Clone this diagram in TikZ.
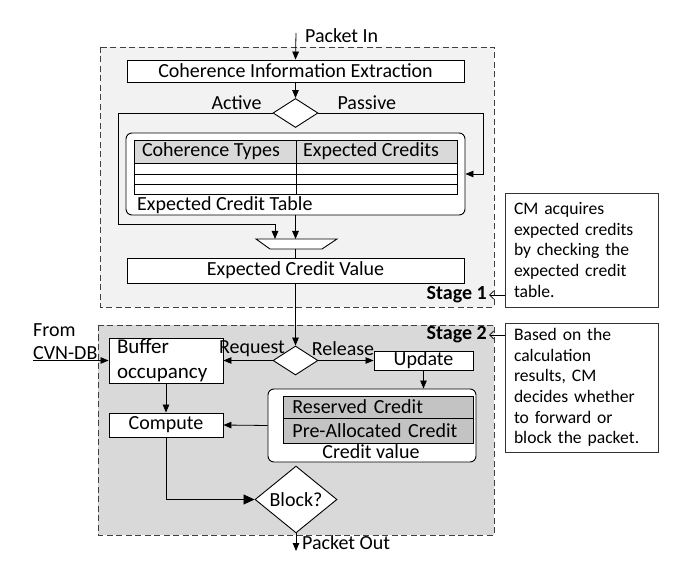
\documentclass[tikz,border=0pt]{standalone}
\usepackage{fontspec}
\setmainfont{Carlito}
\usepackage{xcolor}
\usetikzlibrary{arrows.meta, positioning, shapes.geometric}

\definecolor{stageone}{HTML}{F2F2F2}
\definecolor{stagetwo}{HTML}{D9D9D9}
\definecolor{cellgray}{HTML}{D9D9D9}
\definecolor{credgray}{HTML}{C3C3C3}

\begin{document}
\begin{tikzpicture}[x=1pt, y=-1pt,
  font=\fontsize{20}{22}\selectfont,
  box/.style={draw=black, fill=white, line width=0.9pt, inner sep=0pt},
  choice/.style={diamond, draw=black, fill=white, line width=0.9pt, inner sep=0pt},
  stagebox/.style={draw=black!75, line width=0.9pt, dash pattern=on 6pt off 3.5pt},
  cell/.style={draw=black, line width=0.9pt, inner sep=0pt, anchor=west},
  note/.style={draw=black!80, fill=white, line width=0.9pt, align=left,
               inner xsep=9pt, inner ysep=0pt, font=\fontsize{17.6}{20.7}\selectfont},
  arr/.style={-{Triangle[length=8pt, width=6.5pt]}, line width=0.8pt},
  bigarr/.style={-{Triangle[length=11pt, width=10pt]}, line width=0.8pt},
  callarr/.style={-{Straight Barb[length=4pt, width=8pt]}, line width=0.8pt}
]
  \useasboundingbox (0,0) rectangle (694,572);

  % Stage frames
  \filldraw[stagebox, fill=stageone] (100,47) rectangle (494,307);
  \filldraw[stagebox, fill=stagetwo] (98,325) rectangle (494,535);
  \node[font=\fontsize{20}{22}\selectfont\bfseries, anchor=east, inner xsep=2pt] (s1) at (489,295) {Stage 1};
  \node[font=\fontsize{20}{22}\selectfont\bfseries, anchor=east, inner xsep=2pt] (s2) at (489,335) {Stage 2};

  % Stage 1
  \coordinate (pin) at (296,33);
  \node[anchor=west, inner xsep=2pt] (pintxt) at (303,36) {Packet In};
  \node[box, minimum width=337pt, minimum height=22pt] (cie) at (295.5,71)
    {Coherence Information Extraction};
  \draw[arr] (pin) -- (cie.north);

  \node[choice, minimum width=45pt, minimum height=29pt] (mode) at (295.5,113) {};
  \draw[arr] (cie.south) -- (mode.north);
  \node[anchor=east] (act) at (265,103) {Active};
  \node[anchor=west] (pas) at (334,103) {Passive};

  % Expected credit table
  \node[box, rounded corners=6pt, minimum width=339pt, minimum height=82pt] (ectbl) at (295.5,174) {};
  \node[cell, fill=cellgray, minimum width=162pt, minimum height=23pt] (ctype) at (134,151.5) {};
  \node[cell, fill=cellgray, minimum width=161pt, minimum height=23pt] (ccred) at (296,151.5) {};
  \node (ctypetxt) at (211,151.5) {Coherence Types};
  \node (ccredtxt) at (371,151.5) {Expected Credits};
  \draw[line width=0.9pt] (134,163) rectangle (457,194);
  \foreach \y in {174,184} {
    \draw[line width=0.9pt] (134,\y) -- (457,\y);
  }
  \draw[line width=0.9pt] (296,163) -- (296,194);
  \node[anchor=west, inner xsep=2pt] (ecttxt) at (135,205) {Expected Credit Table};

  % Selector
  \filldraw[fill=white, line width=0.9pt] (256,239) -- (337,239) -- (322,249) -- (270,249) -- cycle;
  \coordinate (muxa) at (275,239);
  \coordinate (muxb) at (295.5,239);
  \coordinate (muxo) at (295.5,249);

  \node[box, minimum width=337pt, minimum height=25pt] (ecv) at (295.5,270.5) {Expected Credit Value};

  \draw[arr] (mode.west) -| (118,224) -| (muxa);
  \draw[arr] (mode.east) -| (483,174) -- (ectbl.east);
  \draw[arr] (ectbl.south) -- (muxb);
  \draw[line width=0.8pt] (muxo) -- (ecv.north);

  % Stage 2
  \node[anchor=west, align=left, inner xsep=2pt, font=\fontsize{20}{23}\selectfont] (from) at (31,341.5) {From\\CVN-DB};
  \coordinate (cvn) at (33,360.5);
  \node[box, minimum width=114pt, minimum height=45pt, text width=98pt, align=left,
        inner xsep=8pt, font=\fontsize{21}{25}\selectfont] (buf) at (166,360.5) {Buffer\\occupancy};
  \draw[arr] (cvn) -- (buf.west);

  \node[choice, minimum width=45pt, minimum height=29pt] (req) at (295.5,360.5) {};
  \draw[arr] (ecv.south) -- (req.north);
  \node (reqtxt) at (252,349) {Request};
  \node (reltxt) at (343,349) {Release};
  \node[box, minimum width=99pt, minimum height=19pt] (upd) at (423.5,360.5) {Update};
  \draw[arr] (req.west) -- (buf.east);
  \draw[arr] (req.east) -- (upd.west);

  % Credit value
  \node[box, rounded corners=6pt, minimum width=208pt, minimum height=73pt] (cv) at (372,425.5) {};
  \node[cell, fill=credgray, minimum width=181pt, minimum height=22pt, text width=172pt,
        align=left, inner xsep=9pt] (rsv) at (283,407) {Reserved Credit};
  \node[cell, fill=credgray, minimum width=181pt, minimum height=25pt, text width=172pt,
        align=left, inner xsep=9pt] (pre) at (283,430.5) {Pre-Allocated Credit};
  \node (cvtxt) at (371,452) {Credit value};
  \draw[arr] (upd.south) -- (upd.south |- cv.north);

  \node[box, minimum width=114pt, minimum height=24pt] (cmp) at (166,425) {Compute};
  \draw[arr] (buf.south) -- (cmp.north);
  \draw[arr] (cv.west) -- (cmp.east);

  \node[choice, minimum width=82pt, minimum height=53pt] (blk) at (296,499.5) {Block?};
  \draw[bigarr] (cmp.south) |- (blk.west);
  \coordinate (pout) at (296,551);
  \draw[arr] (blk.south) -- (pout);
  \node[anchor=west, inner xsep=2pt] (pouttxt) at (300,543) {Packet Out};

  % Notes
  \node[note, text width=135pt, minimum height=114pt] (n1) at (581.5,250)
    {CM acquires\\expected credits\\by checking the\\expected credit\\table.};
  \node[note, text width=135pt, minimum height=129pt] (n2) at (581.5,387.5)
    {Based on the\\calculation\\results, CM\\decides whether\\to forward or\\block the packet.};
  \draw[callarr] (n1.west |- s1.east) -- (s1.east);
  \draw[callarr] (n2.west |- s2.east) -- (s2.east);
\end{tikzpicture}
\end{document}
